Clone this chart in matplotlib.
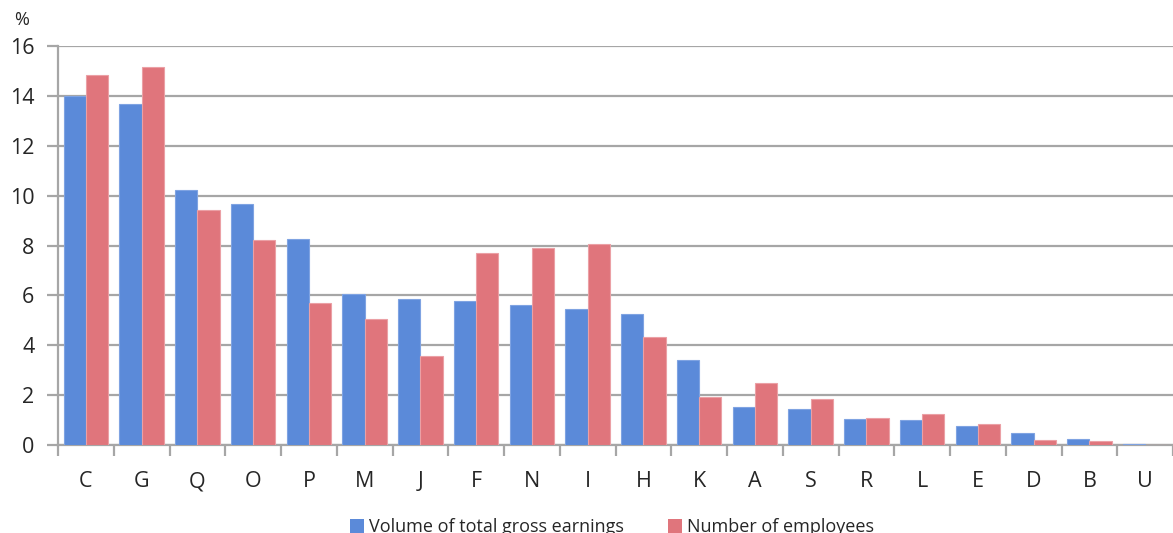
import matplotlib
matplotlib.use("Agg")
import matplotlib.pyplot as plt
import numpy as np
from matplotlib.patches import Patch

categories = ["C", "G", "Q", "O", "P", "M", "J", "F", "N", "I",
              "H", "K", "A", "S", "R", "L", "E", "D", "B", "U"]
earnings = [14.0, 13.67, 10.22, 9.66, 8.26, 6.05, 5.85, 5.77, 5.61, 5.45,
            5.25, 3.41, 1.52, 1.44, 1.04, 1.02, 0.77, 0.47, 0.23, 0.04]
employees = [14.83, 15.15, 9.42, 8.22, 5.69, 5.05, 3.57, 7.70, 7.90, 8.06,
             4.33, 1.92, 2.49, 1.84, 1.08, 1.24, 0.83, 0.20, 0.17, 0.01]
yticks = [0, 2, 4, 6, 8, 10, 12, 14, 16]

blue = "#5b8ad9"
red = "#e0757c"
grid_col = "#a6a6a6"
txt_col = "#262626"

plt.rcParams["font.family"] = ["Open Sans", "DejaVu Sans"]

fig = plt.figure(figsize=(11.73, 5.33), dpi=100)
ax = fig.add_axes([58 / 1173, 1 - 445 / 533, 1 - 58 / 1173, (445 - 46) / 533])

x = np.arange(len(categories))
w = 0.4
ax.bar(x - w / 2, earnings, width=w, color=blue, edgecolor="#7fa3e2",
       linewidth=0.8, zorder=3)
ax.bar(x + w / 2, employees, width=w, color=red, edgecolor="#eba0a5",
       linewidth=0.8, zorder=3)

ax.set_xlim(-0.5, len(categories) - 0.5)
ax.set_ylim(0, 16)
ax.set_yticks(yticks)
ax.set_yticklabels([str(v) for v in yticks], fontsize=15.5, color=txt_col)
ax.yaxis.grid(True, color=grid_col, linewidth=1.6, zorder=0)
ax.tick_params(axis="y", length=8, width=1.6, color=grid_col, pad=9)

# category boundaries as major ticks, labels centred on minor ticks
ax.set_xticks(np.arange(len(categories) + 1) - 0.5)
ax.set_xticklabels([])
ax.set_xticks(x, minor=True)
ax.set_xticklabels(categories, minor=True, fontsize=15.5, color=txt_col)
ax.tick_params(axis="x", which="major", length=8, width=1.6, color=grid_col)
ax.tick_params(axis="x", which="minor", length=0, pad=19)

for side in ("top", "right"):
    ax.spines[side].set_visible(False)
for side in ("left", "bottom"):
    ax.spines[side].set_color(grid_col)
    ax.spines[side].set_linewidth(1.6)

fig.text(22 / 1173, 1 - 20 / 533, "%", fontsize=13, color=txt_col,
         ha="center", va="center")

handles = [Patch(facecolor=blue, label="Volume of total gross earnings"),
           Patch(facecolor=red, label="Number of employees")]
fig.legend(handles=handles, loc="center", bbox_to_anchor=(612 / 1173, 1 - 527 / 533),
           ncol=2, frameon=False, fontsize=13, handlelength=0.8, handleheight=0.8,
           handletextpad=0.3, columnspacing=2.4, labelcolor=txt_col)

fig.savefig("out.png", dpi=100)
